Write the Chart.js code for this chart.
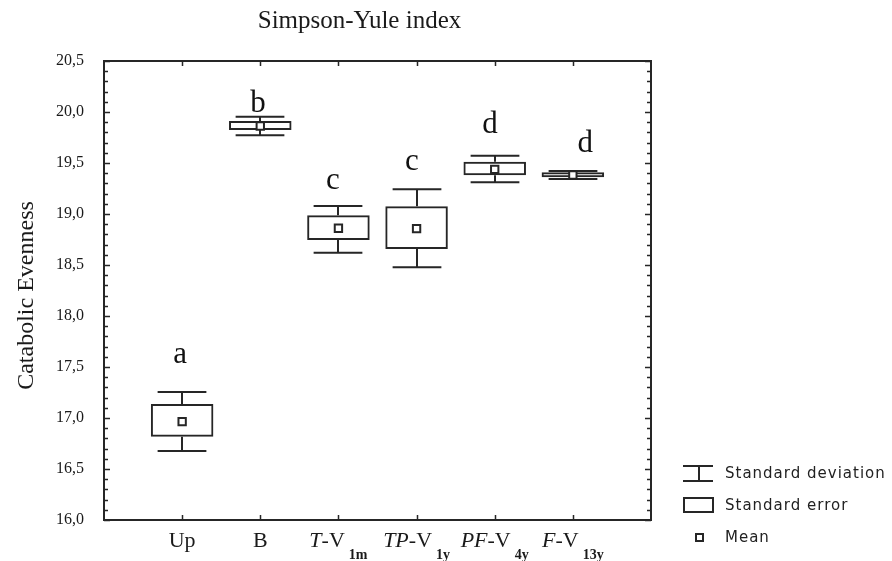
<!DOCTYPE html>
<html><head><meta charset="utf-8">
<script src="https://cdn.jsdelivr.net/npm/chart.js@4.4.0/dist/chart.umd.min.js"></script>
<style>html,body{margin:0;padding:0;background:#fff;overflow:hidden}#wrap{width:892px;height:561px;position:relative}</style>
</head><body><div id="wrap"><canvas id="c"></canvas></div>
<script>
// ---- data ----
const categories = ['Up', 'B', 'T-V1m', 'TP-V1y', 'PF-V4y', 'F-V13y'];
const means  = [16.965, 19.863, 18.860, 18.856, 19.438, 19.382];
const seLow  = [16.817, 19.824, 18.745, 18.657, 19.379, 19.360];
const seHigh = [17.137, 19.912, 18.987, 19.076, 19.513, 19.409];
const sdLow  = [16.676, 19.772, 18.621, 18.477, 19.311, 19.343];
const sdHigh = [17.255, 19.954, 19.078, 19.242, 19.572, 19.422];
const groupLetters = ['a', 'b', 'c', 'c', 'd', 'd'];
const letterX = [0.973, 1.971, 2.93, 3.94, 4.94, 6.16];
const letterY = [17.539, 20.0, 19.245, 19.431, 19.794, 19.608];
const xLabelParts = [
  [['Up','n']],
  [['B','n']],
  [['T','i'],['-V','n'],['1m','s']],
  [['TP','i'],['-V','n'],['1y','s']],
  [['PF','i'],['-V','n'],['4y','s']],
  [['F','i'],['-V','n'],['13y','s']]
];
const yTickValues = [16.0, 16.5, 17.0, 17.5, 18.0, 18.5, 19.0, 19.5, 20.0, 20.5];
const yTickLabels = ['16,0','16,5','17,0','17,5','18,0','18,5','19,0','19,5','20,0','20,5'];
const yMinorStep = 0.1;
const chartTitle = 'Simpson-Yule index';
const yTitle = 'Catabolic Evenness';
const legendItems = ['Standard deviation', 'Standard error', 'Mean'];

const ink = '#262626';
const serif = '"Liberation Serif", "Times New Roman", serif';

const extras = {
  id: 'extras',
  beforeDatasetsDraw(chart) {
    const {ctx, scales: {x, y}} = chart;
    const unit = x.getPixelForValue(1) - x.getPixelForValue(0);
    const half = unit * 0.312;
    ctx.save();
    ctx.strokeStyle = ink; ctx.lineWidth = 2;
    categories.forEach((c, i) => {
      const px = Math.round(x.getPixelForValue(i + 1));
      const yl = y.getPixelForValue(sdLow[i]), yh = y.getPixelForValue(sdHigh[i]);
      const bl = y.getPixelForValue(seLow[i]), bh = y.getPixelForValue(seHigh[i]);
      ctx.beginPath();
      ctx.moveTo(px, bl); ctx.lineTo(px, yl);
      ctx.moveTo(px, bh); ctx.lineTo(px, yh);
      ctx.moveTo(px - half, yl); ctx.lineTo(px + half, yl);
      ctx.moveTo(px - half, yh); ctx.lineTo(px + half, yh);
      ctx.stroke();
    });
    ctx.restore();
  },
  afterDraw(chart) {
    const {ctx, chartArea: a, scales: {x, y}} = chart;
    ctx.save();
    // frame
    ctx.strokeStyle = ink; ctx.lineWidth = 2;
    ctx.strokeRect(a.left, a.top, a.right - a.left, a.bottom - a.top);
    // y ticks (inward, both sides)
    ctx.lineWidth = 1.5;
    ctx.beginPath();
    const n = Math.round((y.max - y.min) / yMinorStep);
    for (let k = 0; k <= n; k++) {
      const py = Math.round(y.getPixelForValue(y.min + k * yMinorStep)) + 0.5;
      const len = (k % 5 === 0) ? 5 : 3;
      ctx.moveTo(a.left, py); ctx.lineTo(a.left + 1 + len, py);
      ctx.moveTo(a.right, py); ctx.lineTo(a.right - 1 - len, py);
    }
    // x ticks (inward, top and bottom)
    categories.forEach((c, i) => {
      const px = Math.round(x.getPixelForValue(i + 1)) + 0.5;
      ctx.moveTo(px, a.top); ctx.lineTo(px, a.top + 5);
      ctx.moveTo(px, a.bottom); ctx.lineTo(px, a.bottom - 5);
    });
    ctx.stroke();

    // letters
    ctx.fillStyle = '#111';
    ctx.font = '31px ' + serif;
    ctx.textAlign = 'center'; ctx.textBaseline = 'alphabetic';
    groupLetters.forEach((L, i) => {
      ctx.fillText(L, x.getPixelForValue(letterX[i]), y.getPixelForValue(letterY[i]));
    });

    // x labels
    const fonts = {n: '22px ' + serif, i: 'italic 22px ' + serif, s: 'bold 14px ' + serif};
    ctx.textAlign = 'left';
    ctx.fillStyle = '#1a1a1a';
    const base = a.bottom + 27;
    xLabelParts.forEach((parts, i) => {
      let w = 0;
      parts.forEach(([t, s]) => { ctx.font = fonts[s]; w += ctx.measureText(t).width + (s === 's' ? 4 : 0); });
      let cx = x.getPixelForValue(i + 1) - w / 2;
      parts.forEach(([t, s]) => {
        ctx.font = fonts[s];
        if (s === 's') cx += 4;
        ctx.fillText(t, cx, s === 's' ? base + 12 : base);
        cx += ctx.measureText(t).width;
      });
    });

    // title
    ctx.font = '25px ' + serif;
    ctx.textAlign = 'center';
    ctx.fillText(chartTitle, (a.left + a.right) / 2 - 18, 28);

    // y title
    ctx.save();
    ctx.translate(33, (a.top + a.bottom) / 2 + 5);
    ctx.rotate(-Math.PI / 2);
    ctx.font = '24px ' + serif;
    ctx.fillText(yTitle, 0, 0);
    ctx.restore();

    // legend
    const lx = a.right + 32, tx = a.right + 74;
    ctx.strokeStyle = ink; ctx.lineWidth = 2;
    ctx.beginPath();
    ctx.moveTo(lx, 466); ctx.lineTo(lx + 30, 466);
    ctx.moveTo(lx, 481); ctx.lineTo(lx + 30, 481);
    ctx.moveTo(lx + 16, 466); ctx.lineTo(lx + 16, 481);
    ctx.stroke();
    ctx.strokeRect(lx + 1, 498, 29, 14);
    ctx.strokeRect(lx + 13, 534, 7, 7);
    ctx.font = '15px "DejaVu Sans", sans-serif';
    try { ctx.letterSpacing = '1px'; } catch (e) {}
    ctx.textAlign = 'left'; ctx.textBaseline = 'middle';
    ctx.fillStyle = '#222';
    const rows = [474, 506, 538];
    legendItems.forEach((t, i) => ctx.fillText(t, tx, rows[i]));
    ctx.restore();
  }
};

new Chart(document.getElementById('c'), {
  type: 'bar',
  data: {
    datasets: [
      {
        type: 'scatter',
        label: 'Mean',
        data: means.map((m, i) => ({x: i + 1, y: m})),
        pointStyle: 'rect',
        pointRadius: 5.2,
        backgroundColor: '#fff',
        borderColor: ink,
        borderWidth: 2,
        order: 1
      },
      {
        type: 'bar',
        label: 'Standard error',
        data: categories.map((c, i) => ({x: i + 1, y: [seLow[i], seHigh[i]]})),
        backgroundColor: 'rgba(0,0,0,0)',
        borderColor: ink,
        borderWidth: 2,
        borderSkipped: false,
        barPercentage: 0.8,
        categoryPercentage: 1.0,
        order: 2
      }
    ]
  },
  options: {
    responsive: true,
    maintainAspectRatio: false,
    animation: false,
    events: [],
    layout: {padding: {top: 61, right: 241, bottom: 41, left: 0}},
    plugins: {legend: {display: false}, tooltip: {enabled: false}, title: {display: false}},
    scales: {
      x: {type: 'linear', min: 0, max: 7, offset: false, display: false},
      y: {
        type: 'linear', min: 16, max: 20.5,
        grid: {display: false, drawTicks: false},
        border: {display: false},
        afterBuildTicks: (s) => { s.ticks = yTickValues.map(v => ({value: v})); },
        afterFit: (s) => { s.width = 104; },
        ticks: {
          callback: (v, i) => yTickLabels[i],
          font: {family: serif, size: 16},
          color: '#1a1a1a',
          padding: 20
        }
      }
    }
  },
  plugins: [extras]
});
</script></body></html>
